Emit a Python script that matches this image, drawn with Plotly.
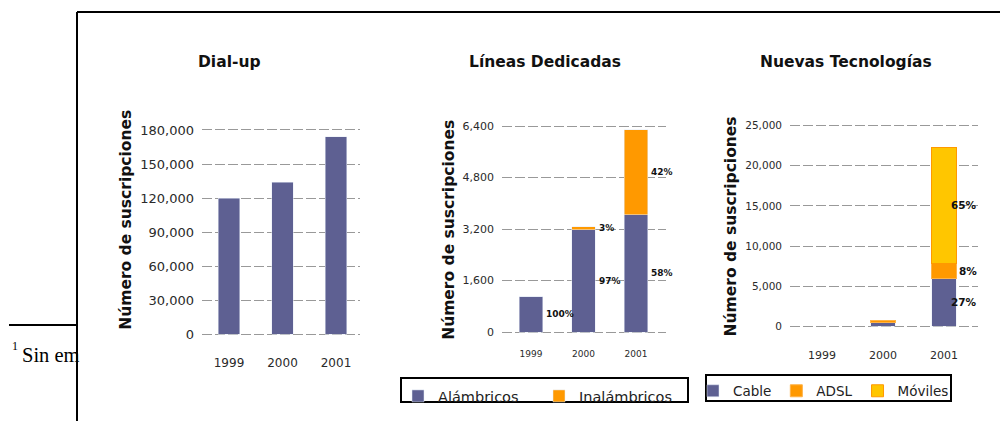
import plotly.graph_objects as go

# ---------------- data ----------------
years = ["1999", "2000", "2001"]

dialup = [120000, 134000, 174000]

lineas_alambricos = [1090, 3170, 3640]
lineas_inalambricos = [0, 95, 2640]
lineas_pct_alambricos = ["100%", "97%", "58%"]
lineas_pct_inalambricos = ["", "3%", "42%"]

nuevas_cable = [None, 550, 6000]
nuevas_adsl = [None, 150, 1800]
nuevas_moviles = [None, None, 14500]
nuevas_pct_cable = ["", "", "27%"]
nuevas_pct_adsl = ["", "", "8%"]
nuevas_pct_moviles = ["", "", "65%"]

dialup_ticks = [0, 30000, 60000, 90000, 120000, 150000, 180000]
lineas_ticks = [0, 1600, 3200, 4800, 6400]
nuevas_ticks = [0, 5000, 10000, 15000, 20000, 25000]

titles = ["Dial-up", "Líneas Dedicadas", "Nuevas Tecnologías"]
ytitle = "Número de suscripciones"

# ---------------- geometry helpers ----------------
W, H = 1000, 421
FONT = "DejaVu Sans"
BLUE = "#5e6092"
ORANGE = "#ff9900"
YELLOW = "#ffc600"
GRID = "#999999"


def ydom(p0, p1, v0, v1, lo, hi):
    s = (p1 - p0) / (v1 - v0)
    pl = p0 + (lo - v0) * s
    ph = p0 + (hi - v0) * s
    return [1 - pl / H, 1 - ph / H]


def xrange_(c0, step, left, right):
    return [(left - c0) / step, (right - c0) / step]


fig = go.Figure()

# Dial-up
fig.add_trace(go.Bar(x=years, y=dialup, marker_color=BLUE, width=0.41,
                     xaxis="x", yaxis="y", showlegend=False, name="Dial-up"))

# Líneas dedicadas
fig.add_trace(go.Bar(x=years, y=lineas_alambricos, marker_color=BLUE, width=0.44,
                     xaxis="x2", yaxis="y2", name="Alámbricos", legend="legend"))
fig.add_trace(go.Bar(x=years, y=lineas_inalambricos, marker_color=ORANGE, width=0.44,
                     xaxis="x2", yaxis="y2", name="Inalámbricos", legend="legend"))

# Nuevas tecnologías
fig.add_trace(go.Bar(x=years, y=nuevas_cable, marker_color=BLUE, width=0.4,
                     xaxis="x3", yaxis="y3", name="Cable", legend="legend2"))
fig.add_trace(go.Bar(x=years, y=nuevas_adsl, marker=dict(color=ORANGE, line=dict(color="#ffb347", width=1)),
                     width=0.4, xaxis="x3", yaxis="y3", name="ADSL", legend="legend2"))
fig.add_trace(go.Bar(x=years, y=nuevas_moviles, marker=dict(color=YELLOW, line=dict(color=ORANGE, width=1)),
                     width=0.4, xaxis="x3", yaxis="y3", name="Móviles", legend="legend2"))

# ---------------- axes ----------------
def yaxis_style(ticks, dom, rng, tfs, anchor):
    return dict(domain=dom, range=rng, anchor=anchor, tickvals=ticks, tickformat=",",
                showgrid=True, gridcolor=GRID, griddash="10px,3px", gridwidth=1,
                zeroline=False, showline=False, ticks="", automargin=False,
                tickfont=dict(family=FONT, size=tfs, color="#2a2a2a"),
                ticklabelstandoff=7,
                title=dict(text=ytitle, standoff=4,
                           font=dict(family=FONT, size=15.5, color="#111111", weight="bold")))


def xaxis_style(dom, rng, tfs, anchor, standoff):
    return dict(domain=dom, range=rng, anchor=anchor, type="category",
                showgrid=False, zeroline=False, showline=False, ticks="",
                automargin=False, ticklabelstandoff=standoff,
                tickfont=dict(family=FONT, size=tfs, color="#2a2a2a"))


fig.update_layout(
    xaxis=xaxis_style([202 / W, 360 / W], xrange_(229, 53.5, 202, 360), 12, "y", 16),
    yaxis=yaxis_style(dialup_ticks, ydom(334.5, 130, 0, 180000, -3000, 205000),
                      [-3000, 205000], 13, "x"),
    xaxis2=xaxis_style([502 / W, 666 / W], xrange_(531, 52.5, 502, 666), 9, "y2", 12),
    yaxis2=yaxis_style(lineas_ticks, ydom(332, 126, 0, 6400, -100, 6450),
                       [-100, 6450], 11, "x2"),
    xaxis3=xaxis_style([790 / W, 978 / W], xrange_(822, 61, 790, 978), 11, "y3", 17),
    yaxis3=yaxis_style(nuevas_ticks, ydom(326.5, 125.5, 0, 25000, -400, 25300),
                       [-400, 25300], 10.5, "x3"),
)

fig.update_layout(
    barmode="stack",
    width=W, height=H,
    margin=dict(l=0, r=0, t=0, b=0),
    paper_bgcolor="white", plot_bgcolor="white",
    legend=dict(x=398 / W, y=1 - 396 / H, xanchor="left", yanchor="middle",
                orientation="h", borderwidth=0,
                entrywidth=96, font=dict(family=FONT, size=14.5, color="#222222"),
                bgcolor="rgba(0,0,0,0)", traceorder="normal"),
    legend2=dict(x=693 / W, y=1 - 391 / H, xanchor="left", yanchor="middle",
                 orientation="h", borderwidth=0,
                 font=dict(family=FONT, size=13.5, color="#222222"),
                 bgcolor="rgba(0,0,0,0)", traceorder="normal"),
)

# legend frames
for x0, y0, x1, y1 in [(401, 378, 688, 402), (706, 375, 951, 401)]:
    fig.add_shape(type="rect", xref="paper", yref="paper",
                  x0=x0 / W, y0=1 - y0 / H, x1=x1 / W, y1=1 - y1 / H,
                  line=dict(color="black", width=2), fillcolor="rgba(0,0,0,0)", layer="below")

# subplot titles
title_x = [229, 545, 846]
for tx, t in zip(title_x, titles):
    fig.add_annotation(x=tx / W, y=1 - 62 / H, xref="paper", yref="paper", text=t,
                       showarrow=False, xanchor="center", yanchor="middle",
                       font=dict(family=FONT, size=15.5, color="#111111", weight="bold"))


# percentage labels (placed beside the stacked segments)
def add_pct(labels, bottoms, values, xref, yref, xshift, anchor, size):
    for i, (lab, b, v) in enumerate(zip(labels, bottoms, values)):
        if lab:
            fig.add_annotation(x=i, y=(b or 0) + (v or 0) / 2, xref=xref, yref=yref, text=lab,
                               showarrow=False, xanchor=anchor, yanchor="middle",
                               xshift=xshift,
                               font=dict(family=FONT, size=size, color="#111111", weight="bold"))


zeros = [0, 0, 0]
add_pct(lineas_pct_alambricos, zeros, lineas_alambricos, "x2", "y2", 13, "left", 9)
add_pct(lineas_pct_inalambricos, lineas_alambricos, lineas_inalambricos, "x2", "y2", 13, "left", 9)
add_pct(nuevas_pct_cable, zeros, nuevas_cable, "x3", "y3", 35, "right", 10.5)
add_pct(nuevas_pct_adsl, nuevas_cable, nuevas_adsl, "x3", "y3", 35, "right", 10.5)
cab_adsl = [(c or 0) + (a or 0) for c, a in zip(nuevas_cable, nuevas_adsl)]
add_pct(nuevas_pct_moviles, cab_adsl, nuevas_moviles, "x3", "y3", 35, "right", 10.5)

# document frame lines and footnote fragment
for x0, y0, x1, y1 in [(77, 12, 1000, 12), (77, 12, 77, 421), (9, 325, 78, 325)]:
    fig.add_shape(type="line", xref="paper", yref="paper",
                  x0=x0 / W, y0=1 - y0 / H, x1=x1 / W, y1=1 - y1 / H,
                  line=dict(color="black", width=2))

fig.add_annotation(x=10 / W, y=1 - 346 / H, xref="paper", yref="paper", text="1",
                   showarrow=False, xanchor="left", yanchor="middle",
                   font=dict(family="Liberation Serif", size=12, color="black"))
fig.add_annotation(x=20 / W, y=1 - 355 / H, xref="paper", yref="paper", text="Sin em",
                   showarrow=False, xanchor="left", yanchor="middle",
                   font=dict(family="Liberation Serif", size=20.5, color="black"))

fig.write_html("out.html", config={"displayModeBar": False},
               post_script="document.body.style.margin='0';document.body.style.padding='0';")
